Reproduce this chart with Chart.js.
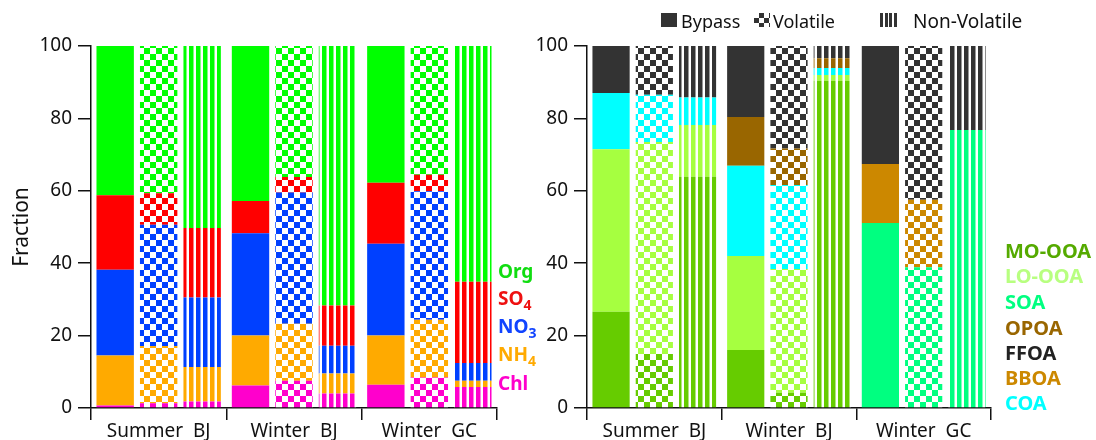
<!DOCTYPE html>
<html>
<head>
<meta charset="utf-8">
<script src="https://cdn.jsdelivr.net/npm/chart.js@4.4.1/dist/chart.umd.min.js"></script>
<style>
  body { margin:0; background:#fff; width:1096px; height:440px; overflow:hidden; position:relative; font-family:"Noto Sans", sans-serif; }
  canvas { position:absolute; top:0; }
  .lg { position:absolute; font-weight:bold; font-size:19px; line-height:20px; white-space:nowrap; }
  .lg.r { font-size:20px; }
  .lg .s { font-size:14px; position:relative; top:5px; }
  .key { position:absolute; font-size:18px; line-height:20px; color:#111; white-space:nowrap; }
  .ico { position:absolute; width:16px; height:14px; }
</style>
</head>
<body>
<canvas id="inorg" width="530" height="440" style="left:0"></canvas>
<canvas id="orgf" width="566" height="440" style="left:530px"></canvas>

<!-- aerosol-state key -->
<div class="ico" style="left:661px;top:13px;background:#333"></div>
<div class="key" style="left:681px;top:11px">Bypass</div>
<div class="ico" style="left:754px;top:13px;background-image:conic-gradient(#333 25%,#fff 0 50%,#333 0 75%,#fff 0);background-size:10px 10px"></div>
<div class="key" style="left:773px;top:11px">Volatile</div>
<div class="ico" style="left:880px;top:13px;width:17px;background:repeating-linear-gradient(90deg,#333 0 3px,#fff 3px 4.5px)"></div>
<div class="key" style="left:913px;top:11px;font-size:19px">Non-Volatile</div>

<!-- species labels, inorganic panel -->
<div class="lg" style="left:498px;top:261px;color:#11dd11">Org</div>
<div class="lg" style="left:498px;top:288px;color:#ee1111">SO<span class="s">4</span></div>
<div class="lg" style="left:498px;top:316px;color:#1144ff">NO<span class="s">3</span></div>
<div class="lg" style="left:498px;top:344px;color:#ffaa00">NH<span class="s">4</span></div>
<div class="lg" style="left:498px;top:373px;color:#ff00cc">Chl</div>

<!-- factor labels, organic panel -->
<div class="lg r" style="left:1005px;top:241px;color:#55aa00">MO-OOA</div>
<div class="lg r" style="left:1005px;top:266px;color:#b8ff80">LO-OOA</div>
<div class="lg r" style="left:1005px;top:292px;color:#00ff80">SOA</div>
<div class="lg r" style="left:1005px;top:318px;color:#996600">OPOA</div>
<div class="lg r" style="left:1005px;top:343px;color:#222222">FFOA</div>
<div class="lg r" style="left:1005px;top:368px;color:#cc8800">BBOA</div>
<div class="lg r" style="left:1005px;top:393px;color:#00ffff">COA</div>

<script>
const categories = ['Summer  BJ', 'Winter  BJ', 'Winter  GC'];
const yTicks = [0, 20, 40, 60, 80, 100];

// Inorganic + total organic fractions (%), one value per category
const chlBypass   = [0.7, 6.2, 6.4];
const chlVolatile = [1.3, 7.5, 8.4];
const chlNonVol   = [1.8, 4.0, 5.8];
const nh4Bypass   = [13.8, 13.8, 13.6];
const nh4Volatile = [15.8, 15.8, 16.0];
const nh4NonVol   = [9.5, 5.5, 1.7];
const no3Bypass   = [23.7, 28.3, 25.4];
const no3Volatile = [33.5, 36.2, 35.5];
const no3NonVol   = [19.2, 7.7, 4.9];
const so4Bypass   = [20.6, 8.9, 16.8];
const so4Volatile = [8.7, 4.3, 4.5];
const so4NonVol   = [19.2, 11.1, 22.5];
const orgBypass   = [41.2, 42.8, 37.8];
const orgVolatile = [40.7, 36.2, 35.6];
const orgNonVol   = [50.3, 71.7, 65.1];

// Organic factor fractions (%), one value per category
const mooBypass   = [26.6, 16.0, 0];
const mooVolatile = [14.9, 4.2, 0];
const mooNonVol   = [63.9, 90.4, 0];
const looBypass   = [44.9, 26.0, 0];
const looVolatile = [58.6, 34.2, 0];
const looNonVol   = [14.3, 1.6, 0];
const soaBypass   = [0, 0, 51.1];
const soaVolatile = [0, 0, 38.9];
const soaNonVol   = [0, 0, 76.8];
const coaBypass   = [15.5, 24.9, 0];
const coaVolatile = [13.0, 23.2, 0];
const coaNonVol   = [7.6, 1.9, 0];
const opoaBypass   = [0, 13.5, 0];
const opoaVolatile = [0, 10.1, 0];
const opoaNonVol   = [0, 2.7, 0];
const bboaBypass   = [0, 0, 16.3];
const bboaVolatile = [0, 0, 18.6];
const bboaNonVol   = [0, 0, 0];
const ffoaBypass   = [13.0, 19.6, 32.6];
const ffoaVolatile = [13.5, 28.3, 42.5];
const ffoaNonVol   = [14.2, 3.4, 23.2];

// stacking order: first entry sits at the bottom
const inorgSpecies = [
  { name: 'Chl', color: '#ff00cc', values: [chlBypass, chlVolatile, chlNonVol] },
  { name: 'NH4', color: '#ffaa00', values: [nh4Bypass, nh4Volatile, nh4NonVol] },
  { name: 'NO3', color: '#0040ff', values: [no3Bypass, no3Volatile, no3NonVol] },
  { name: 'SO4', color: '#ff0000', values: [so4Bypass, so4Volatile, so4NonVol] },
  { name: 'Org', color: '#00ff00', values: [orgBypass, orgVolatile, orgNonVol] }
];
const orgFactors = [
  { name: 'MO-OOA', color: '#66cc00', values: [mooBypass, mooVolatile, mooNonVol] },
  { name: 'LO-OOA', color: '#a6ff40', values: [looBypass, looVolatile, looNonVol] },
  { name: 'SOA',    color: '#00ff80', values: [soaBypass, soaVolatile, soaNonVol] },
  { name: 'COA',    color: '#00ffff', values: [coaBypass, coaVolatile, coaNonVol] },
  { name: 'OPOA',   color: '#996600', values: [opoaBypass, opoaVolatile, opoaNonVol] },
  { name: 'BBOA',   color: '#cc8800', values: [bboaBypass, bboaVolatile, bboaNonVol] },
  { name: 'FFOA',   color: '#333333', values: [ffoaBypass, ffoaVolatile, ffoaNonVol] }
];

Chart.defaults.font.family = '"Noto Sans", sans-serif';
Chart.defaults.color = '#111';

function checker(color) {
  const c = document.createElement('canvas');
  c.width = 12; c.height = 12;
  const g = c.getContext('2d');
  g.fillStyle = '#fff'; g.fillRect(0, 0, 12, 12);
  g.fillStyle = color; g.fillRect(0, 0, 6, 6); g.fillRect(6, 6, 6, 6);
  return g.createPattern(c, 'repeat');
}
function stripes(color) {
  const c = document.createElement('canvas');
  c.width = 7; c.height = 4;
  const g = c.getContext('2d');
  g.fillStyle = '#fff'; g.fillRect(0, 0, 7, 4);
  g.fillStyle = color; g.fillRect(0, 0, 4.5, 4);
  return g.createPattern(c, 'repeat');
}

const modes = ['bypass', 'volatile', 'nonvol'];
function fillFor(mode, color) {
  if (mode === 'bypass') return color;
  if (mode === 'volatile') return checker(color);
  return stripes(color);
}
function buildDatasets(list) {
  const out = [];
  list.forEach(sp => {
    modes.forEach((m, i) => {
      out.push({
        label: sp.name + ' ' + m,
        data: sp.values[i],
        stack: m,
        backgroundColor: fillFor(m, sp.color),
        borderWidth: 0,
        categoryPercentage: 0.964,
        barPercentage: 0.86
      });
    });
  });
  return out;
}

function makeChart(id, list, title, axisWidth, padRight) {
  return new Chart(document.getElementById(id), {
    type: 'bar',
    data: { labels: categories, datasets: buildDatasets(list) },
    options: {
      responsive: false,
      animation: false,
      layout: { padding: { top: 46, right: padRight, left: 0, bottom: 0 } },
      plugins: { legend: { display: false }, tooltip: { enabled: false } },
      scales: {
        x: {
          stacked: true,
          offset: true,
          grid: { display: true, offset: true, drawOnChartArea: false, drawTicks: true, tickLength: 12, color: '#111', lineWidth: 1.5 },
          border: { display: true, color: '#111', width: 1.5 },
          ticks: { color: '#111', font: { size: 19 }, padding: 0, maxRotation: 0, autoSkip: false },
          afterFit(s) { s.height = 32; }
        },
        y: {
          stacked: true,
          min: 0, max: 100,
          afterBuildTicks(s) { s.ticks = yTicks.map(v => ({ value: v })); },
          grid: { display: true, drawOnChartArea: false, drawTicks: true, tickLength: 13, color: '#111', lineWidth: 1.5 },
          border: { display: true, color: '#111', width: 1.5 },
          ticks: { color: '#111', font: { size: 19 }, padding: 6 },
          title: { display: !!title, text: title, color: '#111', font: { size: 21 }, padding: { top: 9, bottom: 0 } },
          afterFit(s) { s.width = axisWidth; }
        }
      }
    }
  });
}

makeChart('inorg', inorgSpecies, 'Fraction', 91, 33);
makeChart('orgf', orgFactors, '', 57, 105);
</script>
</body>
</html>
